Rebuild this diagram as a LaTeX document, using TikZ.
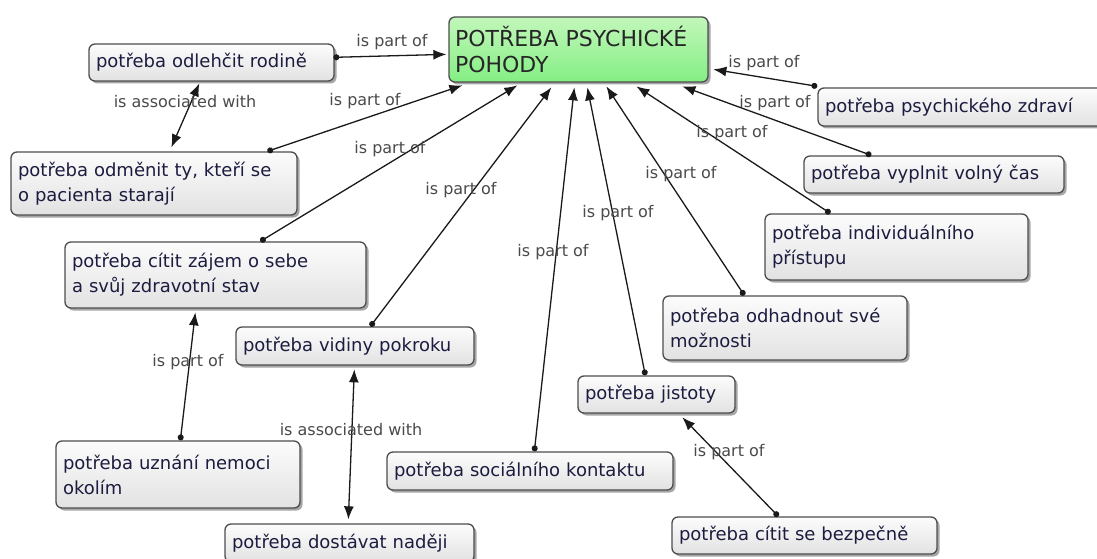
\documentclass[tikz,border=0pt]{standalone}
\usepackage{fontspec}
\setmainfont{DejaVu Sans}
\usetikzlibrary{arrows.meta,shadows,calc}
\definecolor{ink}{HTML}{1C1C40}
\definecolor{hdink}{HTML}{262626}
\definecolor{lblgray}{HTML}{4A4A4A}
\definecolor{boxedge}{HTML}{4D4D4D}
\definecolor{boxtop}{HTML}{FCFCFC}
\definecolor{boxbot}{HTML}{E2E2E2}
\definecolor{greentop}{HTML}{C2F7BA}
\definecolor{greenbot}{HTML}{84EE84}
\definecolor{linkcol}{HTML}{1A1A1A}

\tikzset{
  need/.style={draw=boxedge, line width=1.3pt, rounded corners=6pt,
    top color=boxtop, bottom color=boxbot,
    drop shadow={shadow xshift=2.5pt, shadow yshift=-2.5pt, fill=black, opacity=0.35},
    text=ink, font=\fontsize{18}{25}\selectfont, align=left,
    inner xsep=7pt, inner ysep=0pt},
  mainneed/.style={need, top color=greentop, bottom color=greenbot, text=hdink,
    font=\fontsize{22}{26}\selectfont, inner xsep=6pt},
  lbl/.style={text=lblgray, font=\fontsize{16}{19}\selectfont, inner sep=0pt},
  link/.style={draw=linkcol, line width=1.3pt,
    {Circle[length=6pt]}-{Latex[length=13pt,width=10pt]}},
  assoc/.style={draw=linkcol, line width=1.3pt,
    {Latex[length=13pt,width=10pt]}-{Latex[length=13pt,width=10pt]}}
}

\begin{document}
\begin{tikzpicture}[x=1pt,y=-1pt]
\useasboundingbox (0,0) rectangle (1097,559);
\fill[white] (0,0) rectangle (1097,559);
\clip (0,0) rectangle (1097,559);

% concepts
\node[mainneed, minimum width=259, minimum height=65, text width=247] (ctr) at (578.5,49.5) {POTŘEBA PSYCHICKÉ\\POHODY};
\node[need, minimum width=245, minimum height=37, text width=231] (odl) at (211.5,62.5) {potřeba odlehčit rodině};
\node[need, minimum width=286, minimum height=63, text width=272] (odm) at (154,183.5) {potřeba odměnit ty, kteří se\\o pacienta starají};
\node[need, minimum width=301, minimum height=66, text width=287] (zaj) at (215.5,275) {potřeba cítit zájem o sebe\\a svůj zdravotní stav};
\node[need, minimum width=238, minimum height=38, text width=224] (vid) at (355,346) {potřeba vidiny pokroku};
\node[need, minimum width=244, minimum height=67, text width=230] (uzn) at (178,474.5) {potřeba uznání nemoci\\okolím};
\node[need, minimum width=249, minimum height=38, text width=235] (nad) at (349.5,543) {potřeba dostávat naději};
\node[need, minimum width=286, minimum height=38, text width=272] (soc) at (530,471) {potřeba sociálního kontaktu};
\node[need, minimum width=157, minimum height=37, text width=143] (jis) at (656.5,394.5) {potřeba jistoty};
\node[need, minimum width=265, minimum height=37, text width=251] (bez) at (804.5,535.5) {potřeba cítit se bezpečně};
\node[need, minimum width=244, minimum height=64, text width=230] (odh) at (785,328) {potřeba odhadnout své\\možnosti};
\node[need, minimum width=263, minimum height=66, text width=249] (ind) at (896.5,247) {potřeba individuálního\\přístupu};
\node[need, minimum width=260, minimum height=37, text width=246] (vyp) at (934,174.5) {potřeba vyplnit volný čas};
\node[need, minimum width=292, minimum height=38, text width=278] (zdr) at (964,107) {potřeba psychického zdraví};

% links into the main need
\draw[link] ($(odl.north west)+(245,14)$) -- ($(ctr.north west)+(-2,38)$);
\draw[link] ($(odm.north west)+(257,0)$) -- ($(ctr.north west)+(14,69)$);
\draw[link] ($(zaj.north west)+(196,0)$) -- ($(ctr.north west)+(69,69)$);
\draw[link] ($(vid.north west)+(135,0)$) -- ($(ctr.north west)+(103,71)$);
\draw[link] ($(soc.north west)+(148,0)$) -- ($(ctr.north west)+(126,71)$);
\draw[link] ($(jis.north west)+(68,0)$) -- ($(ctr.north west)+(139,71)$);
\draw[link] ($(odh.north west)+(82,0)$) -- ($(ctr.north west)+(158,70)$);
\draw[link] ($(ind.north west)+(66,0)$) -- ($(ctr.north west)+(188,70)$);
\draw[link] ($(vyp.north west)+(68,0)$) -- ($(ctr.north west)+(234,70)$);
\draw[link] ($(zdr.north west)+(0,-1)$) -- ($(ctr.north west)+(265,53)$);

% other links
\draw[link] ($(uzn.north west)+(125,0)$) -- ($(zaj.north west)+(131,71)$);
\draw[link] ($(bez.north west)+(107,0)$) -- ($(jis.north west)+(105,42)$);
\draw[assoc] ($(odm.north west)+(161,-4)$) -- ($(odl.north west)+(111,40)$);
\draw[assoc] ($(nad.north west)+(124,-4)$) -- ($(vid.north west)+(119,43)$);

% link labels
\node[lbl] (l1) at (392,42) {is part of};
\node[lbl] (l2) at (185,102) {is associated with};
\node[lbl] (l3) at (365,101) {is part of};
\node[lbl] (l4) at (390,149) {is part of};
\node[lbl] (l5) at (461,190) {is part of};
\node[lbl] (l6) at (553,252) {is part of};
\node[lbl] (l7) at (618,213) {is part of};
\node[lbl] (l8) at (681,174) {is part of};
\node[lbl] (l9) at (732,133) {is part of};
\node[lbl] (l10) at (775,103) {is part of};
\node[lbl] (l11) at (764,63) {is part of};
\node[lbl] (l12) at (188,362) {is part of};
\node[lbl] (l13) at (351,430) {is associated with};
\node[lbl] (l14) at (729,452) {is part of};
\end{tikzpicture}
\end{document}
